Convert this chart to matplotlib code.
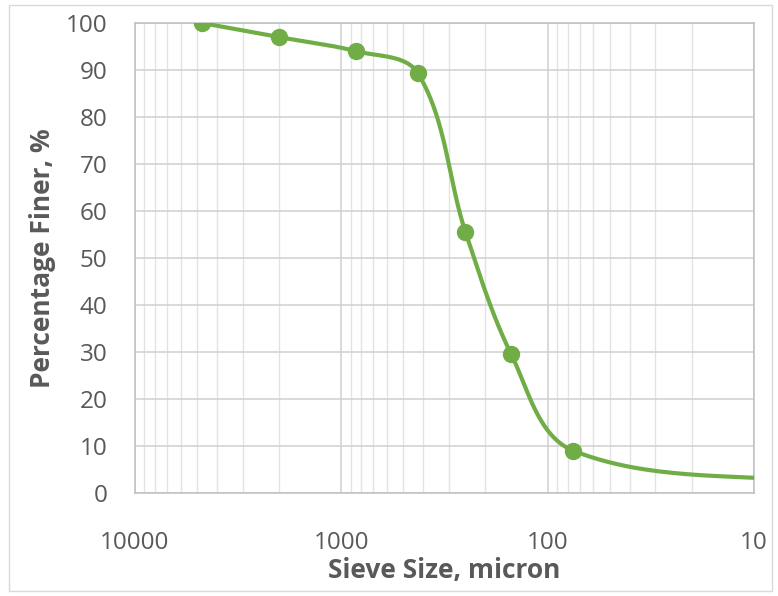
import numpy as np
import matplotlib.pyplot as plt
from matplotlib.patches import Rectangle
from matplotlib.ticker import FixedLocator, NullFormatter

plt.rcParams['font.family'] = ['Open Sans', 'DejaVu Sans']

# sieve sizes (micron) and percent passing
sieve = [4750, 2000, 850, 425, 250, 150, 75]
finer = [100, 97, 94, 89.3, 55.5, 29.5, 9.0]
# the smoothed line runs on past the right edge (clipped, no marker)
tail_size = [4]
tail_finer = [2.0]

green = '#70AD47'
grey_txt = '#595959'


def smooth_line(ax, xs, ys, n=60):
    # Excel-like smoothing: cubic bezier, tangents along neighbours,
    # control arms a third of the segment length, done in pixel space
    pts = ax.transData.transform(np.column_stack([xs, ys]))
    m = len(pts)
    tang = []
    for i in range(m):
        a = pts[max(i - 1, 0)]
        b = pts[min(i + 1, m - 1)]
        d = b - a
        tang.append(d / np.hypot(*d))
    out = [pts[0]]
    t = np.linspace(0, 1, n)[1:, None]
    for i in range(m - 1):
        p0, p3 = pts[i], pts[i + 1]
        L = np.hypot(*(p3 - p0)) / 3
        p1 = p0 + tang[i] * L
        p2 = p3 - tang[i + 1] * L
        seg = ((1 - t) ** 3) * p0 + 3 * ((1 - t) ** 2) * t * p1 \
            + 3 * (1 - t) * t ** 2 * p2 + t ** 3 * p3
        out.extend(seg)
    out = np.array(out)
    return ax.transData.inverted().transform(out)


fig = plt.figure(figsize=(7.78, 5.96), dpi=100)
ax = fig.add_axes([0.1735, 0.1728, 0.7955, 0.7886])

ax.set_xscale('log')
ax.set_xlim(10000, 10)
ax.set_ylim(0, 100)

curve = smooth_line(ax, sieve + tail_size, finer + tail_finer)
ax.plot(curve[:, 0], curve[:, 1], color=green, lw=3, solid_capstyle='butt', zorder=3)
ax.plot(sieve, finer, 'o', color=green, ms=11.5, zorder=4)

ax.xaxis.set_major_locator(FixedLocator([10000, 1000, 100, 10]))
ax.xaxis.set_major_formatter(plt.FuncFormatter(lambda v, p: '%d' % v))
minors = [k * 10 ** e for e in (1, 2, 3) for k in range(2, 10)]
ax.xaxis.set_minor_locator(FixedLocator(minors))
ax.xaxis.set_minor_formatter(NullFormatter())
ax.set_yticks(np.arange(0, 101, 10))

ax.grid(True, which='major', color='#D0D0D0', lw=1.1)
ax.grid(True, which='minor', axis='x', color='#E3E3E3', lw=1.0)
ax.set_axisbelow(True)

for s in ax.spines.values():
    s.set_color('#BFBFBF')
    s.set_linewidth(1.1)

ax.tick_params(which='both', length=0, labelsize=17.5, colors=grey_txt)
ax.tick_params(axis='y', pad=20)
ax.tick_params(axis='x', pad=27)

ax.set_xlabel('Sieve Size, micron', fontsize=19, fontweight='bold', color=grey_txt, labelpad=2)
ax.set_ylabel('Percentage Finer, %', fontsize=19, fontweight='bold', color=grey_txt, labelpad=7)

fig.patches.append(Rectangle((0.012, 0.008), 0.98, 0.984, transform=fig.transFigure,
                             fill=False, ec='#D9D9D9', lw=1))

fig.savefig('out.png', dpi=100)
